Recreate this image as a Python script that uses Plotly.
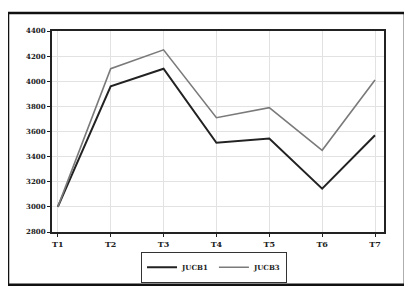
import plotly.graph_objects as go

categories = ["T1", "T2", "T3", "T4", "T5", "T6", "T7"]
series_a_name = "JUCB1"
series_a = [3000, 3960, 4100, 3510, 3545, 3145, 3570]
series_b_name = "JUCB3"
series_b = [3000, 4100, 4250, 3710, 3790, 3450, 4010]
y_ticks = [2800, 3000, 3200, 3400, 3600, 3800, 4000, 4200, 4400]

fig = go.Figure()
fig.add_trace(go.Scatter(x=categories, y=series_a, name=series_a_name, mode="lines",
                         line=dict(color="#222222", width=2)))
fig.add_trace(go.Scatter(x=categories, y=series_b, name=series_b_name, mode="lines",
                         line=dict(color="#7a7a7a", width=1.6)))

tf = dict(family="DejaVu Serif", size=7, color="#222222", weight="bold")
fig.update_layout(
    width=412, height=287,
    margin=dict(l=44, r=36, t=23, b=63),
    paper_bgcolor="white", plot_bgcolor="white",
    font=tf,
    showlegend=True,
    legend=dict(orientation="h", x=0.488, y=-0.175, xanchor="center", yanchor="middle",
                bordercolor="#333333", borderwidth=1, font=tf,
                itemwidth=30, tracegroupgap=0),
    xaxis=dict(type="category", range=[-0.11, 6.17], showgrid=True, gridcolor="#e2e2e2",
               gridwidth=1, showline=True, linecolor="#222222", linewidth=2, mirror=True,
               ticks="outside", ticklen=3, tickcolor="#222222", zeroline=False,
               tickfont=dict(family="DejaVu Serif", size=8, color="#222222", weight="bold")),
    yaxis=dict(range=[2800, 4400], tickvals=y_ticks, showgrid=True, gridcolor="#e2e2e2",
               gridwidth=1, showline=True, linecolor="#222222", linewidth=2, mirror=True,
               ticks="outside", ticklen=3, tickcolor="#222222", zeroline=False,
               tickfont=tf),
    shapes=[dict(type="rect", xref="paper", yref="paper", x0=-0.1325, x1=1.063,
                 y0=-0.262, y1=1.09, line=dict(color="#111111", width=2.5))],
)

fig.write_html("out.html")
